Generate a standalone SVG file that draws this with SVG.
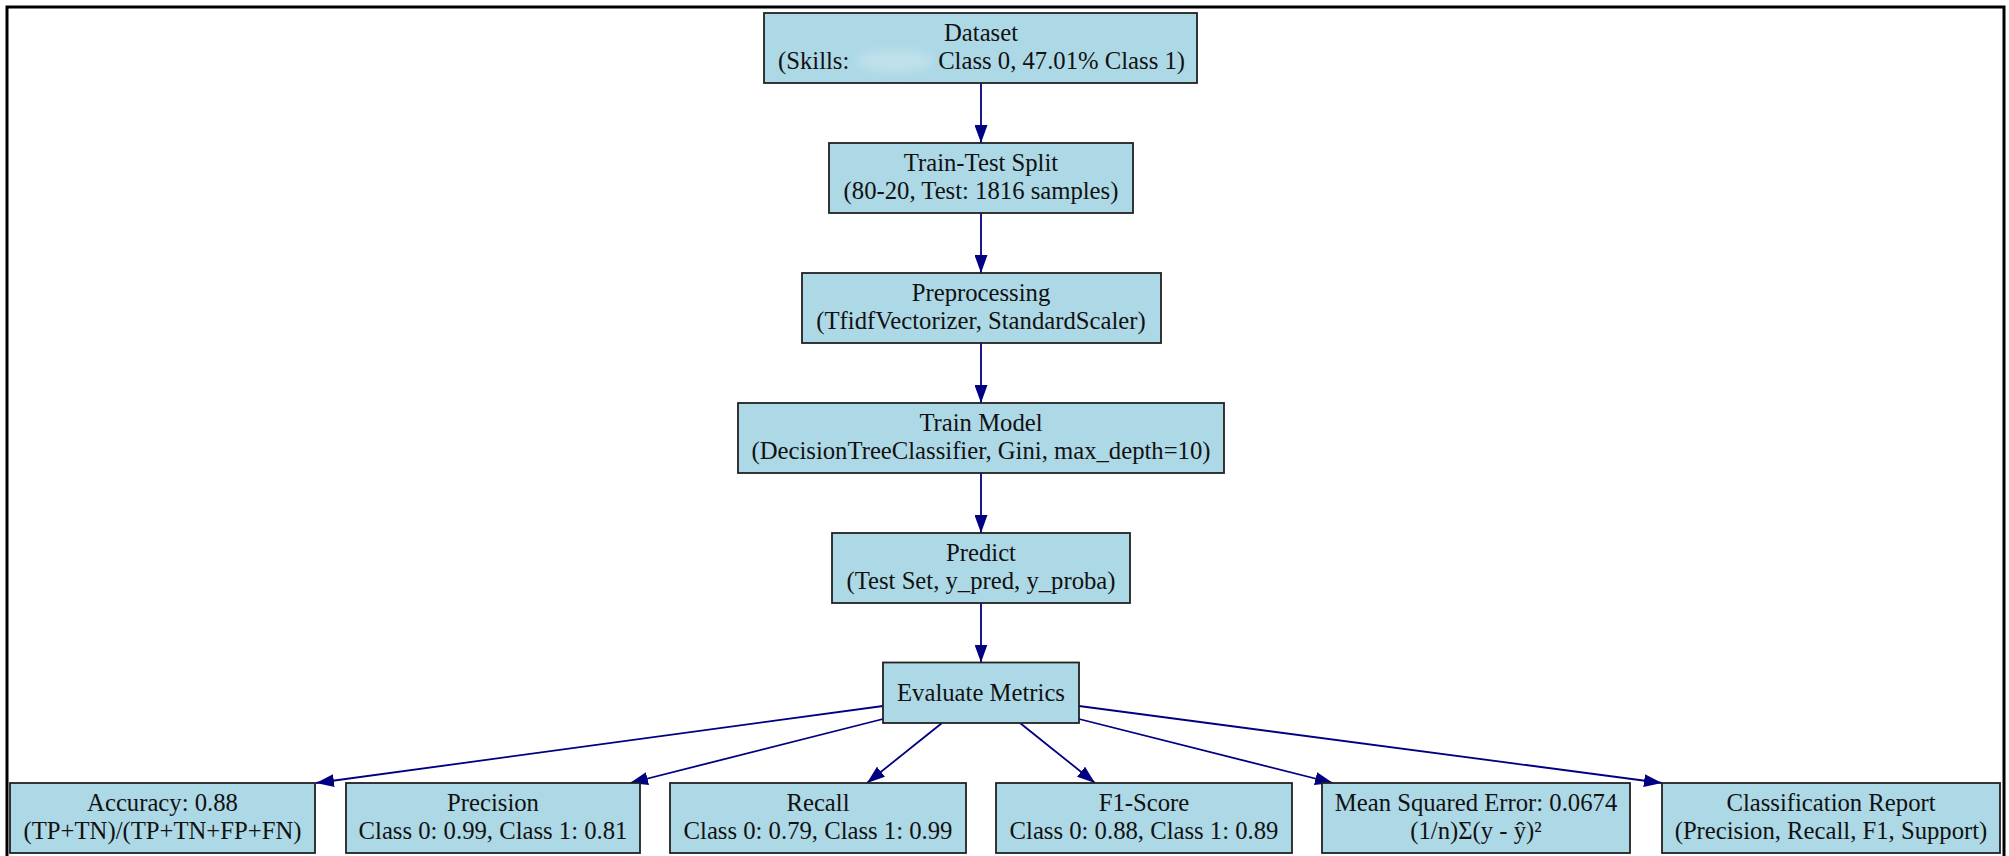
<svg xmlns="http://www.w3.org/2000/svg" width="2009" height="856" viewBox="0 0 2009 856">
  <style>
    .node rect { fill: #add8e6; stroke: #222; stroke-width: 1.8; }
    .node text { font-family: "Liberation Serif", "Times New Roman", serif; font-size: 24.7px; fill: #111; text-anchor: middle; }
    #edges line { stroke: #000080; stroke-width: 1.8; fill: none; marker-end: url(#arrow); }
  </style>
  <defs>
    <marker id="arrow" markerUnits="userSpaceOnUse" viewBox="0 0 18 13" refX="18" refY="6.5" markerWidth="18" markerHeight="13" orient="auto">
      <path d="M0,0 L18,6.5 L0,13 z" fill="#000080"/>
    </marker>
    <filter id="soft" x="-20%" y="-50%" width="140%" height="200%">
      <feGaussianBlur stdDeviation="4"/>
    </filter>
  </defs>

  <rect width="2009" height="856" fill="#ffffff"/>
  <!-- outer frame, open at the bottom edge -->
  <path d="M7,870 V7 H2004 V870" fill="none" stroke="#000" stroke-width="3"/>

  <g id="edges">
    <line x1="981" y1="83" x2="981" y2="143"/>
    <line x1="981" y1="213" x2="981" y2="273"/>
    <line x1="981" y1="343" x2="981" y2="403"/>
    <line x1="981" y1="473" x2="981" y2="533"/>
    <line x1="981" y1="603" x2="981" y2="662.5"/>
    <line x1="883" y1="706" x2="316" y2="783"/>
    <line x1="883" y1="719" x2="630" y2="783"/>
    <line x1="942" y1="723" x2="867" y2="783"/>
    <line x1="1020" y1="723" x2="1095" y2="783"/>
    <line x1="1079" y1="719" x2="1333" y2="783"/>
    <line x1="1079" y1="706" x2="1662" y2="783"/>
  </g>

  <g id="dataset" class="node">
    <rect x="764" y="13" width="433" height="70"/>
    <text x="981" y="40.5">Dataset</text>
    <text x="778" y="68.5" style="text-anchor:start">(Skills:</text>
    <ellipse cx="895" cy="61" rx="38" ry="11" fill="#c4e3ed" opacity="0.8" filter="url(#soft)"/>
    <text x="1185" y="68.5" style="text-anchor:end">Class 0, 47.01% Class 1)</text>
  </g>

  <g id="train-test-split" class="node">
    <rect x="829" y="143" width="304" height="70"/>
    <text x="981" y="170.5">Train-Test Split</text>
    <text x="981" y="198.5">(80-20, Test: 1816 samples)</text>
  </g>

  <g id="preprocessing" class="node">
    <rect x="802" y="273" width="359" height="70"/>
    <text x="981" y="300.5">Preprocessing</text>
    <text x="981" y="328.5">(TfidfVectorizer, StandardScaler)</text>
  </g>

  <g id="train-model" class="node">
    <rect x="738" y="403" width="486" height="70"/>
    <text x="981" y="430.5">Train Model</text>
    <text x="981" y="458.5">(DecisionTreeClassifier, Gini, max_depth=10)</text>
  </g>

  <g id="predict" class="node">
    <rect x="832" y="533" width="298" height="70"/>
    <text x="981" y="560.5">Predict</text>
    <text x="981" y="588.5">(Test Set, y_pred, y_proba)</text>
  </g>

  <g id="evaluate" class="node">
    <rect x="883" y="662.5" width="196" height="60.5"/>
    <text x="981" y="700.5">Evaluate Metrics</text>
  </g>

  <g id="accuracy" class="node">
    <rect x="10" y="783" width="305" height="70"/>
    <text x="162.5" y="810.5">Accuracy: 0.88</text>
    <text x="162.5" y="838.5">(TP+TN)/(TP+TN+FP+FN)</text>
  </g>

  <g id="precision" class="node">
    <rect x="346" y="783" width="294" height="70"/>
    <text x="493" y="810.5">Precision</text>
    <text x="493" y="838.5">Class 0: 0.99, Class 1: 0.81</text>
  </g>

  <g id="recall" class="node">
    <rect x="670" y="783" width="296" height="70"/>
    <text x="818" y="810.5">Recall</text>
    <text x="818" y="838.5">Class 0: 0.79, Class 1: 0.99</text>
  </g>

  <g id="f1-score" class="node">
    <rect x="996" y="783" width="296" height="70"/>
    <text x="1144" y="810.5">F1-Score</text>
    <text x="1144" y="838.5">Class 0: 0.88, Class 1: 0.89</text>
  </g>

  <g id="mse" class="node">
    <rect x="1322" y="783" width="308" height="70"/>
    <text x="1476" y="810.5">Mean Squared Error: 0.0674</text>
    <text x="1476" y="838.5">(1/n)Σ(y - ŷ)²</text>
  </g>

  <g id="classification-report" class="node">
    <rect x="1662" y="783" width="338" height="70"/>
    <text x="1831" y="810.5">Classification Report</text>
    <text x="1831" y="838.5">(Precision, Recall, F1, Support)</text>
  </g>
</svg>
